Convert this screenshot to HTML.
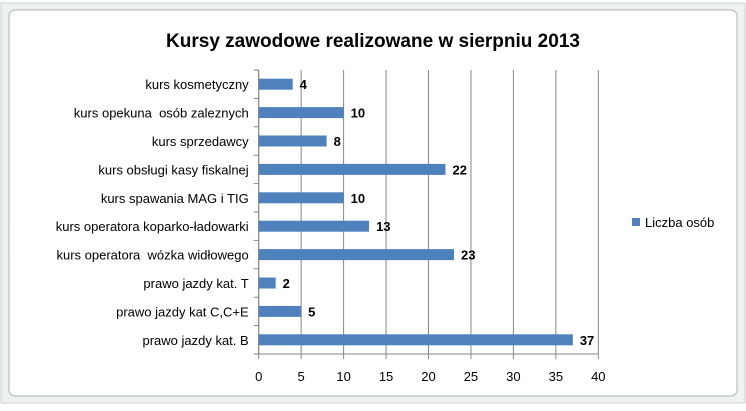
<!DOCTYPE html>
<html><head><meta charset="utf-8"><style>
body{margin:0;width:746px;height:406px;background:#fff;overflow:hidden;font-family:"Liberation Sans",sans-serif}
text{white-space:pre}
</style></head><body>
<svg width="746" height="406" xmlns="http://www.w3.org/2000/svg">
<rect x="1" y="3" width="744" height="400" fill="#eef2f2" stroke="#c9d3d3"/>
<rect x="9" y="10" width="728" height="386" rx="6" fill="#fff" stroke="#a9b4b4"/>
<text x="373" y="47" text-anchor="middle" font-size="19" font-weight="bold" fill="#000">Kursy zawodowe realizowane w sierpniu 2013</text>
<g id="grid"></g><g id="bars"></g><g id="labels"></g>
<rect x="632" y="218" width="8" height="8" fill="#4f81bd"/>
<text x="645" y="227" font-size="13" fill="#000">Liczba osób</text>
</svg>
<script>
const categories=["kurs kosmetyczny","kurs opekuna  osób zaleznych","kurs sprzedawcy","kurs obsługi kasy fiskalnej","kurs spawania MAG i TIG","kurs operatora koparko-ładowarki","kurs operatora  wózka widłowego","prawo jazdy kat. T","prawo jazdy kat C,C+E","prawo jazdy kat. B"];
const values=[4,10,8,22,10,13,23,2,5,37];
const ticks=[0,5,10,15,20,25,30,35,40];
const NS="http://www.w3.org/2000/svg";
const x0=258.7,x1=598.3,ptop=70,pbot=354,xmax=40;
const xs=v=>x0+(v/xmax)*(x1-x0);
const band=(pbot-ptop)/categories.length;
const g=document.getElementById('grid'),b=document.getElementById('bars'),l=document.getElementById('labels');
function mk(tag,attrs,parent){const e=document.createElementNS(NS,tag);for(const k in attrs)e.setAttribute(k,attrs[k]);parent.appendChild(e);return e;}
ticks.forEach(t=>{
 const ln=mk('line',{x1:xs(t),x2:xs(t),y1:ptop,y2:pbot+5,stroke:'#868686','stroke-width':1},g);
 
 
 const tx=mk('text',{x:xs(t),y:pbot+27,'text-anchor':'middle','font-size':13,fill:'#000'},l);
 tx.textContent=t;
 
 
});
const ax=mk('line',{x1:x0,x2:x0,y1:ptop,y2:pbot,stroke:'#868686'},g);


for(let i=0;i<=categories.length;i++){
 const tk=mk('line',{x1:x0-5,x2:x0,y1:ptop+i*band,y2:ptop+i*band,stroke:'#868686'},g);
 
 
}
const bx=mk('line',{x1:x0,x2:x1,y1:pbot,y2:pbot,stroke:'#868686'},g);


categories.forEach((c,i)=>{
 const cy=ptop+band*(i+0.5);
 const r=mk('rect',{x:x0,y:cy-5.5,width:xs(values[i])-x0,height:11,fill:'#4f81bd'},b);
 
 
 const v=mk('text',{x:xs(values[i])+7,y:cy+5,'font-size':13,'font-weight':'bold',fill:'#000'},l);
 v.textContent=values[i];
 
 
 const t=mk('text',{x:x0-10,y:cy+5,'text-anchor':'end','font-size':13,fill:'#000'},l);
 t.textContent=c;
 
 
});
</script>
</body></html>
